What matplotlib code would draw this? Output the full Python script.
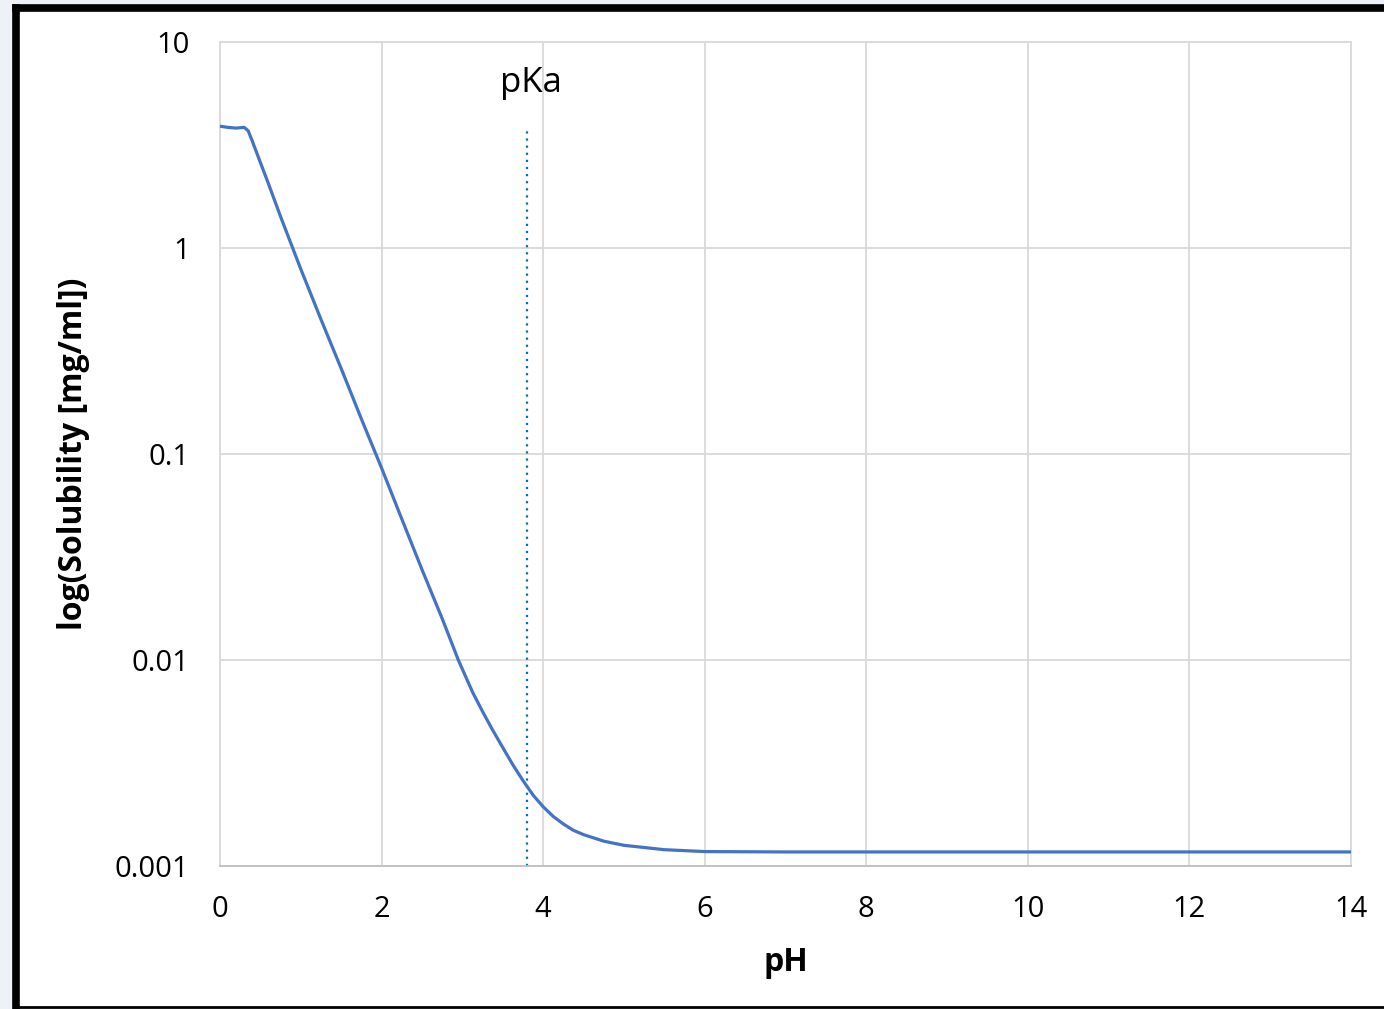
import numpy as np
import matplotlib
matplotlib.use('Agg')
import matplotlib.pyplot as plt
from matplotlib.lines import Line2D
from matplotlib.patches import Rectangle

plt.rcParams['font.family'] = ['Open Sans', 'DejaVu Sans']

# values
ph = [0, 0.1, 0.2, 0.3, 0.35, 0.4, 0.5, 0.6, 0.75, 1.0, 1.25, 1.5, 1.75, 2.0, 2.25, 2.5, 2.75,
      2.95, 3.125, 3.25, 3.375, 3.5, 3.625, 3.75, 3.875, 4.0, 4.125, 4.25, 4.375, 4.5, 4.75,
      5.0, 5.5, 6.0, 7, 8, 9, 10, 11, 12, 13, 14]
solubility = [3.9, 3.85, 3.82, 3.85, 3.7, 3.3, 2.6, 2.05, 1.42, 0.79, 0.45, 0.26, 0.148, 0.0855,
              0.0484, 0.0275, 0.0159, 0.01, 0.0070, 0.00562, 0.00457, 0.00376, 0.0031, 0.0026,
              0.00221, 0.00194, 0.00174, 0.0016, 0.00149, 0.00142, 0.00132, 0.00126,
              0.0012, 0.001175, 0.00117, 0.00117, 0.00117, 0.00117, 0.00117, 0.00117,
              0.00117, 0.00117]
pka = 3.8
pka_top = 3.87
x_ticks = [0, 2, 4, 6, 8, 10, 12, 14]
y_ticks = [0.001, 0.01, 0.1, 1, 10]
y_tick_labels = ['0.001', '0.01', '0.1', '1', '10']

fig = plt.figure(figsize=(13.84, 10.09), dpi=100)
fig.patch.set_facecolor('#eef2f8')

# white card with black frame (left/top thick, bottom thin)
fig.add_artist(Rectangle((16 / 1384, 0), 1.0, 1 - 8 / 1009, transform=fig.transFigure,
                         facecolor='white', edgecolor='none', zorder=0))
fig.add_artist(Line2D([16 / 1384, 16 / 1384], [0, 1 - 8 / 1009], transform=fig.transFigure,
                      color='black', lw=5.5, solid_capstyle='projecting'))
fig.add_artist(Line2D([16 / 1384, 1], [1 - 8 / 1009, 1 - 8 / 1009], transform=fig.transFigure,
                      color='black', lw=5.5, solid_capstyle='projecting'))
fig.add_artist(Line2D([16 / 1384, 1], [2.5 / 1009, 2.5 / 1009], transform=fig.transFigure,
                      color='black', lw=2))

ax = fig.add_axes([220 / 1384, 1 - 866 / 1009, (1351 - 220) / 1384, (866 - 42) / 1009])
ax.set_facecolor('white')

ax.plot(ph, solubility, color='#4472C4', lw=2.3, zorder=3, solid_joinstyle='round')
ax.plot([pka, pka], [0.001, pka_top], color='#0070C0', lw=1.6, linestyle=(0, (1, 2.2)), zorder=2)
ax.text(pka + 0.05, 5.74, 'pKa', fontsize=25, ha='center', va='baseline')

ax.set_yscale('log')
ax.set_xlim(0, 14)
ax.set_ylim(0.001, 10)
ax.set_xticks(x_ticks)
ax.set_yticks(y_ticks)
ax.set_yticklabels(y_tick_labels)
ax.yaxis.set_minor_locator(matplotlib.ticker.NullLocator())
ax.tick_params(axis='both', length=0, labelsize=21)
ax.tick_params(axis='y', pad=22)
ax.tick_params(axis='x', pad=21)
ax.grid(True, color='#d9d9d9', lw=1.3)
ax.set_axisbelow(True)
for s in ax.spines.values():
    s.set_color('#d9d9d9')
    s.set_linewidth(1.3)
ax.spines['bottom'].set_color('#bfbfbf')

ax.set_xlabel('pH', fontsize=23, fontweight='bold', labelpad=16)
ax.set_ylabel('log(Solubility [mg/ml])', fontsize=23, fontweight='bold', labelpad=18)

fig.savefig('out.png', dpi=100, facecolor=fig.get_facecolor())
